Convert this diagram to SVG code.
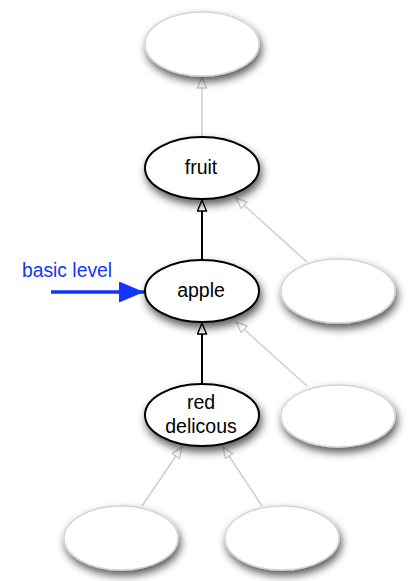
<svg xmlns="http://www.w3.org/2000/svg" width="411" height="581" viewBox="0 0 411 581">
  <defs>
    <filter id="shadow" x="-30%" y="-30%" width="160%" height="180%">
      <feDropShadow dx="2" dy="5" stdDeviation="4" flood-color="#000" flood-opacity="0.65"/>
    </filter>
    <marker id="open-black" markerUnits="userSpaceOnUse" markerWidth="14" markerHeight="12" refX="12" refY="5" orient="auto" viewBox="0 0 14 12">
      <path d="M1,0.5 L12,5 L1,9.5 Z" fill="#fff" stroke="#000" stroke-width="1.4"/>
    </marker>
    <marker id="open-grey" markerUnits="userSpaceOnUse" markerWidth="14" markerHeight="12" refX="12" refY="5" orient="auto" viewBox="0 0 14 12">
      <path d="M1,0.5 L12,5 L1,9.5 Z" fill="#fff" stroke="#c8c8c8" stroke-width="1.3"/>
    </marker>
    <marker id="solid-blue" markerUnits="userSpaceOnUse" markerWidth="26" markerHeight="22" refX="25" refY="10.5" orient="auto" viewBox="0 0 26 22">
      <path d="M0,0 L25,10.5 L0,21 Z" fill="#1234ff"/>
    </marker>
    <style>
      .node-main { fill: #fff; stroke: #000; stroke-width: 2; filter: url(#shadow); }
      .node-faint { fill: #fff; stroke: #d4d4d4; stroke-width: 1.5; filter: url(#shadow); }
      .label { font-family: "Liberation Sans", Arial, sans-serif; font-size: 19.5px; fill: #000; text-anchor: middle; }
      .edge-main { stroke: #000; stroke-width: 2; fill: none; marker-end: url(#open-black); }
      .edge-faint { stroke: #cfcfcf; stroke-width: 1.6; fill: none; marker-end: url(#open-grey); }
    </style>
  </defs>

  <g id="connectors">
    <line class="edge-faint" x1="202" y1="136" x2="202" y2="77"/>
    <line class="edge-main" x1="202" y1="259" x2="202" y2="200"/>
    <line class="edge-faint" x1="307" y1="262" x2="236" y2="198"/>
    <line class="edge-main" x1="202" y1="383" x2="202" y2="323"/>
    <line class="edge-faint" x1="307" y1="386" x2="236" y2="322"/>
    <line class="edge-faint" x1="142" y1="506" x2="182" y2="447"/>
    <line class="edge-faint" x1="262" y1="506" x2="223" y2="447"/>
    <line stroke="#1234ff" stroke-width="3.5" marker-end="url(#solid-blue)" x1="51" y1="292" x2="144" y2="292"/>
  </g>

  <g id="node-top">
    <ellipse class="node-faint" cx="202" cy="44" rx="57" ry="32"/>
  </g>
  <g id="node-fruit">
    <ellipse class="node-main" cx="202" cy="168" rx="57" ry="31"/>
    <text class="label" x="201" y="174">fruit</text>
  </g>
  <g id="node-apple">
    <ellipse class="node-main" cx="202" cy="291" rx="57" ry="31"/>
    <text class="label" x="201" y="297">apple</text>
  </g>
  <g id="node-sibling-apple">
    <ellipse class="node-faint" cx="338" cy="291" rx="57" ry="32"/>
  </g>
  <g id="node-red-delicous">
    <ellipse class="node-main" cx="202" cy="415" rx="57" ry="31"/>
    <text class="label" x="201" y="409">red</text>
    <text class="label" x="201" y="433">delicous</text>
  </g>
  <g id="node-sibling-red">
    <ellipse class="node-faint" cx="338" cy="416" rx="57" ry="31"/>
  </g>
  <g id="node-leaf-left">
    <ellipse class="node-faint" cx="121" cy="538" rx="57" ry="32"/>
  </g>
  <g id="node-leaf-right">
    <ellipse class="node-faint" cx="282" cy="538" rx="57" ry="32"/>
  </g>

  <g id="annotation">
    <text x="22" y="277" font-family="'Liberation Sans', Arial, sans-serif" font-size="19.3" fill="#1234ff">basic level</text>
  </g>
</svg>
